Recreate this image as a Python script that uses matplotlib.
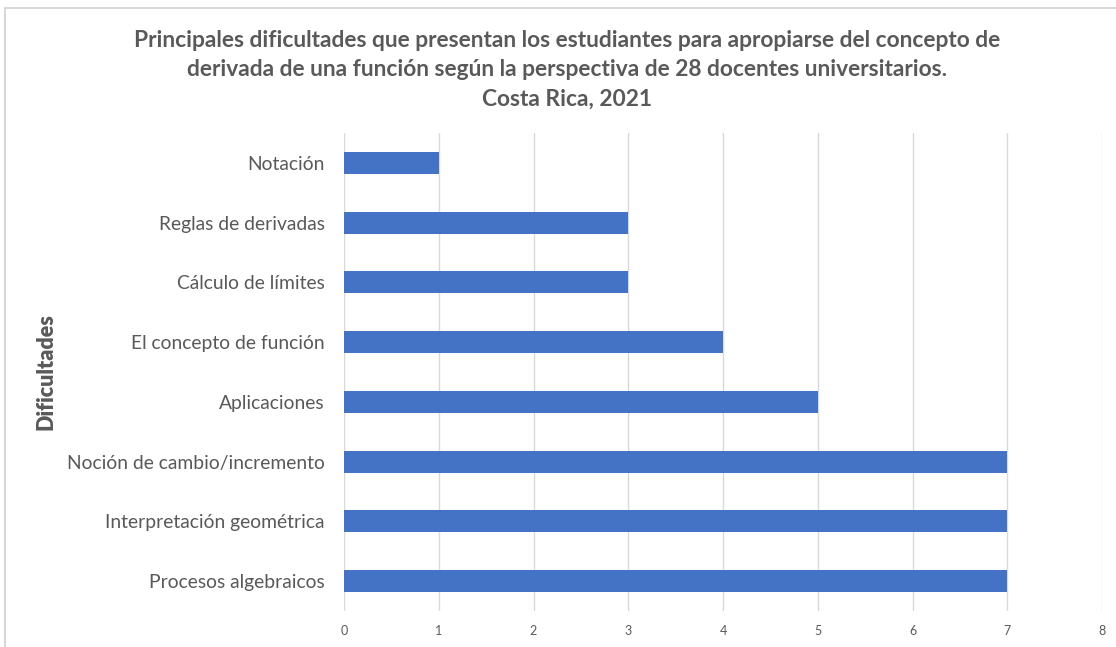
import matplotlib
matplotlib.use("Agg")
import matplotlib.pyplot as plt
from matplotlib.patches import Rectangle

categories = ["Procesos algebraicos", "Interpretación geométrica", "Noción de cambio/incremento",
              "Aplicaciones", "El concepto de función", "Cálculo de límites",
              "Reglas de derivadas", "Notación"]
values = [7, 7, 7, 5, 4, 3, 3, 1]
xticks = [0, 1, 2, 3, 4, 5, 6, 7, 8]

plt.rcParams['font.family'] = ['Lato', 'DejaVu Sans']
txt = '#595959'

fig = plt.figure(figsize=(11.16, 6.47), dpi=100)
ax = fig.add_axes([344/1116, 1-611/647, (1102-344)/1116, (611-133)/647])
fig.patches.append(Rectangle((5/1116, -0.01), 1.02, 1-8/647+0.01, transform=fig.transFigure,
                             fill=False, edgecolor='#d0d0d0', linewidth=1.2))

y = list(range(len(categories)))
ax.barh(y, values, height=0.37, color='#4472C4', zorder=3)
ax.set_yticks(y)
ax.set_yticklabels(categories, fontsize=13.9, color=txt)
ax.set_ylim(-0.5, len(categories)-0.5)
ax.set_xlim(0, 8)
ax.set_xticks(xticks)
ax.set_xticklabels([str(t) for t in xticks], fontsize=9, color=txt)
ax.grid(axis='x', color='#d9d9d9', linewidth=1, zorder=0)
for s in ax.spines.values():
    s.set_visible(False)
ax.tick_params(axis='both', length=0)
ax.tick_params(axis='y', pad=14)
ax.tick_params(axis='x', pad=10)
ax.set_ylabel("Dificultades", fontsize=15.5, fontweight='heavy', color=txt)
ax.yaxis.set_label_coords((56-344)/758, 0.5)

fig.text(567/1116, 1-70/647,
         "Principales dificultades que presentan los estudiantes para apropiarse del concepto de\n"
         "derivada de una función según la perspectiva de 28 docentes universitarios.\n"
         "Costa Rica, 2021",
         ha='center', va='center', fontsize=16.4, fontweight='bold', color=txt, linespacing=1.5)

fig.savefig("out.png", dpi=100)
